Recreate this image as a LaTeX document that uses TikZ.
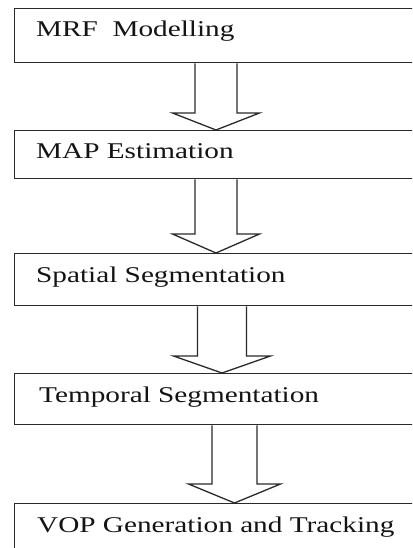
\documentclass[tikz,border=0pt]{standalone}
\usepackage{fontspec}
\setmainfont[FakeStretch=1.3]{Liberation Serif}
\usetikzlibrary{calc}
\definecolor{linecol}{HTML}{2A2A2A}
\definecolor{txtcol}{HTML}{141414}
\tikzset{
  stagebox/.style={draw=linecol, line width=1.3pt, rectangle, anchor=north west, minimum width=420pt, inner sep=0pt},
  stagetext/.style={anchor=base west, inner sep=0pt, text=txtcol, font=\fontsize{22.5}{27}\selectfont},
  arrowline/.style={draw=linecol, line width=1.3pt, line join=miter}
}
\newcommand\blockarrow[6]{%
  \draw[arrowline] let \p1=(#1.south), \p2=(#2.north) in
    (#3pt-#4pt,\y1) -- (#3pt-#4pt,\y2+#6pt) -- (#3pt-#5pt,\y2+#6pt) -- (#3pt,\y2)
    -- (#3pt+#5pt,\y2+#6pt) -- (#3pt+#4pt,\y2+#6pt) -- (#3pt+#4pt,\y1);}
\begin{document}
\begin{tikzpicture}[x=1pt,y=1pt]
\useasboundingbox (0,0) rectangle (412,548);
\clip (0,0) rectangle (412,548);
\fill[white] (0,0) rectangle (412,548);
\node[stagebox, minimum height=54pt] (b1) at (14,540) {};
\node[stagebox, minimum height=48pt] (b2) at (14,418) {};
\node[stagebox, minimum height=52pt] (b3) at (14,295) {};
\node[stagebox, minimum height=51pt] (b4) at (14,175) {};
\node[stagebox, minimum height=60pt] (b5) at (14,45) {};
\node[stagetext] (t1) at (36,511) {MRF\ \ Modelling};
\node[stagetext] (t2) at (36,389) {MAP Estimation};
\node[stagetext] (t3) at (36,265) {Spatial Segmentation};
\node[stagetext] (t4) at (39,145) {Temporal Segmentation};
\node[stagetext] (t5) at (37,15) {VOP Generation and Tracking};
\blockarrow{b1}{b2}{216}{21}{43.5}{17}
\blockarrow{b2}{b3}{216}{21}{43.5}{19}
\blockarrow{b3}{b4}{222}{24.5}{48.5}{17}
\blockarrow{b4}{b5}{234.5}{22.5}{46}{19}
\end{tikzpicture}
\end{document}
